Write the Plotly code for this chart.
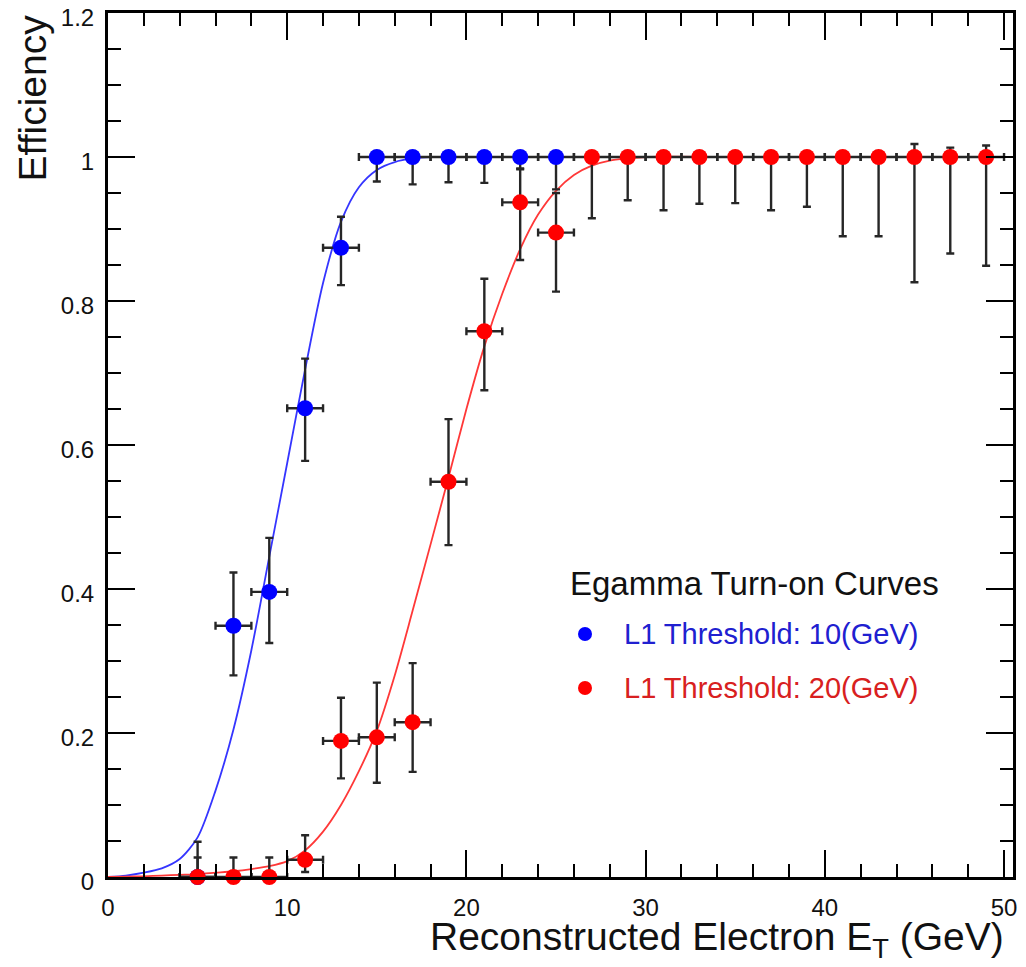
import plotly.graph_objects as go

# ---------------- data ----------------
blue_x = [5, 7, 9, 11, 13, 15, 17, 19, 21, 23, 25]
blue_eff = [0.0, 0.349, 0.396, 0.651, 0.874, 1.0, 1.0, 1.0, 1.0, 1.0, 1.0]
blue_err_hi = [0.049, 0.074, 0.075, 0.069, 0.043, 0.0, 0.0, 0.0, 0.0, 0.0, 0.0]
blue_err_lo = [0.0, 0.069, 0.071, 0.073, 0.052, 0.034, 0.038, 0.035, 0.036, 0.017, 0.045]

red_x = [5, 7, 9, 11, 13, 15, 17, 19, 21, 23, 25, 27, 29, 31, 33, 35, 37, 39, 41, 43, 45, 47, 49]
red_eff = [0.0, 0.0, 0.0, 0.024, 0.189, 0.194, 0.215, 0.549, 0.758, 0.937, 0.895,
           1.0, 1.0, 1.0, 1.0, 1.0, 1.0, 1.0, 1.0, 1.0, 1.0, 1.0, 1.0]
red_err_hi = [0.027, 0.027, 0.027, 0.034, 0.06, 0.076, 0.082, 0.087, 0.073, 0.047, 0.055,
              0.0, 0.0, 0.0, 0.0, 0.0, 0.0, 0.0, 0.0, 0.0, 0.018, 0.013, 0.016]
red_err_lo = [0.0, 0.0, 0.0, 0.017, 0.052, 0.063, 0.069, 0.088, 0.082, 0.08, 0.082,
              0.085, 0.06, 0.074, 0.065, 0.064, 0.074, 0.069, 0.11, 0.11, 0.174, 0.134, 0.151]
bin_half_width = [1.0]

blue_fit_x = [0, 1, 2, 3, 4, 5, 6, 7, 8, 9, 10, 11, 12, 13, 14, 15, 16, 17, 18, 19, 20, 25, 30, 35, 40, 45, 50]
blue_fit_y = [0.0, 0.002, 0.006, 0.012, 0.025, 0.055, 0.12, 0.205, 0.315, 0.445, 0.575, 0.705,
              0.825, 0.91, 0.958, 0.982, 0.993, 0.998, 1.0, 1.0, 1.0, 1.0, 1.0, 1.0, 1.0, 1.0, 1.0]

red_fit_x = [0, 1, 2, 3, 4, 5, 6, 7, 8, 9, 10, 11, 12, 13, 14, 15, 16, 17, 18, 19, 20,
             21, 22, 23, 24, 25, 26, 27, 28, 29, 30, 35, 40, 45, 50]
red_fit_y = [0.0, 0.0005, 0.001, 0.002, 0.003, 0.004, 0.006, 0.008, 0.011, 0.015, 0.022,
             0.037, 0.063, 0.1, 0.147, 0.203, 0.28, 0.37, 0.462, 0.555, 0.65, 0.737, 0.81,
             0.872, 0.92, 0.953, 0.975, 0.988, 0.995, 0.998, 1.0, 1.0, 1.0, 1.0, 1.0]

legend_title = "Egamma Turn-on Curves"
legend_labels = ["L1 Threshold: 10(GeV)", "L1 Threshold: 20(GeV)"]
x_title = "Reconstructed Electron E<sub>T</sub> (GeV)"
y_title = "Efficiency"

# ---------------- styles ----------------
FONT = "Liberation Sans, Arial, Helvetica, sans-serif"
BLUE = "#0000ff"
RED = "#ff0000"
ERRC = "#262626"

fig = go.Figure()

fig.add_trace(go.Scatter(x=blue_fit_x, y=blue_fit_y, mode="lines",
                         line=dict(color="#3535ff", width=1.8, shape="spline", smoothing=0.8),
                         showlegend=False, hoverinfo="skip"))
fig.add_trace(go.Scatter(x=red_fit_x, y=red_fit_y, mode="lines",
                         line=dict(color="#ff3838", width=1.8, shape="spline", smoothing=0.8),
                         showlegend=False, hoverinfo="skip"))


def pts(x, y, hi, lo, color):
    return go.Scatter(
        x=x, y=y, mode="markers",
        marker=dict(color=color, size=16, line=dict(width=0)),
        error_y=dict(type="data", symmetric=False, array=hi, arrayminus=lo,
                     color=ERRC, thickness=2.4, width=4),
        error_x=dict(type="constant", value=bin_half_width[0], color=ERRC,
                     thickness=2.4, width=4),
        cliponaxis=False, showlegend=False)


fig.add_trace(pts(blue_x, blue_eff, blue_err_hi, blue_err_lo, BLUE))
fig.add_trace(pts(red_x, red_eff, red_err_hi, red_err_lo, RED))

axis_common = dict(
    showgrid=False, zeroline=False, showline=True, linecolor="black", linewidth=3,
    mirror="ticks", ticks="inside", tickcolor="black", tickwidth=2, ticklen=27,
    tickfont=dict(family=FONT, size=24, color="#111"), automargin=False,
    ticklabeloverflow="allow",
)

fig.update_xaxes(range=[0, 50.5], dtick=10, tick0=0,
                 minor=dict(dtick=2, ticks="inside", ticklen=13, tickwidth=2, tickcolor="black"),
                 ticklabelstandoff=7, **axis_common)
fig.update_yaxes(range=[0, 1.2], dtick=0.2, tick0=0,
                 minor=dict(dtick=0.05, ticks="inside", ticklen=13, tickwidth=2, tickcolor="black"),
                 ticklabelstandoff=6, ticklabelshift=5, **axis_common)

# page has an 8px body margin: figure is drawn 8px in from the window corner
OFF = 8
WIN_W, WIN_H = 1026, 967
W, H = WIN_W - 2 * OFF, WIN_H - 2 * OFF
# plot frame in window pixels: left 108, right 1013, top 13, bottom 877
L, R, T, B = 108 - OFF, WIN_W - 1013 - OFF, 13 - OFF, WIN_H - 877 - OFF
pw, ph = W - L - R, H - T - B


def px(xp):
    return (xp - OFF - L) / pw


def py(yp):
    return (H - B - (yp - OFF)) / ph


annotations = [
    dict(text=y_title, textangle=-90, xref="paper", yref="paper",
         x=px(32), y=1.0, xanchor="center", yanchor="top", showarrow=False,
         font=dict(family=FONT, size=39, color="#111")),
    dict(text=x_title, xref="paper", yref="paper", x=px(1006), y=py(939),
         xanchor="right", yanchor="middle", showarrow=False,
         font=dict(family=FONT, size=39, color="#111")),
    dict(text=legend_title, xref="paper", yref="paper", x=px(568), y=py(583),
         xanchor="left", yanchor="middle", showarrow=False,
         font=dict(family=FONT, size=33, color="#111")),
    dict(text=legend_labels[0], xref="paper", yref="paper", x=px(622), y=py(634),
         xanchor="left", yanchor="middle", showarrow=False,
         font=dict(family=FONT, size=29, color="#2020d0")),
    dict(text=legend_labels[1], xref="paper", yref="paper", x=px(622), y=py(688),
         xanchor="left", yanchor="middle", showarrow=False,
         font=dict(family=FONT, size=29, color="#d82020")),
]

shapes = []
for yy, col in [(634, BLUE), (688, RED)]:
    shapes.append(dict(type="circle", xref="paper", yref="paper",
                       xsizemode="pixel", ysizemode="pixel",
                       xanchor=px(585), yanchor=py(yy),
                       x0=-7, x1=7, y0=-7, y1=7,
                       fillcolor=col, line=dict(width=0)))

fig.update_layout(
    width=W, height=H,
    margin=dict(l=L, r=R, t=T, b=B, pad=0, autoexpand=False),
    paper_bgcolor="white", plot_bgcolor="white",
    font=dict(family=FONT, color="#111"),
    annotations=annotations, shapes=shapes,
    showlegend=False,
)

fig.write_html("out.html")
